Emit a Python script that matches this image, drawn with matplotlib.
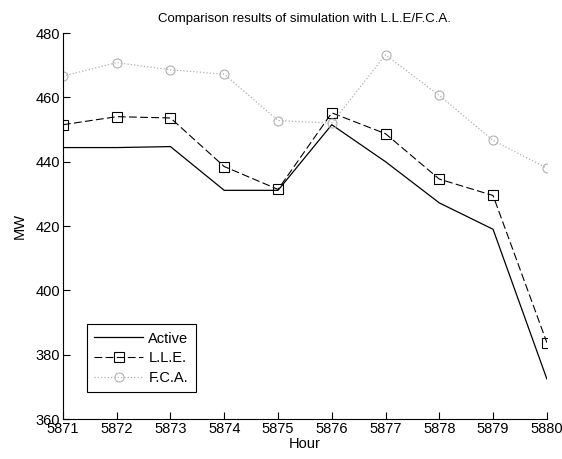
import numpy as np
import matplotlib.pyplot as plt

plt.rcParams['font.family'] = ['Liberation Sans', 'DejaVu Sans']

hours = [5871, 5872, 5873, 5874, 5875, 5876, 5877, 5878, 5879, 5880]
active = [444.4, 444.4, 444.7, 431.1, 431.1, 451.5, 440.0, 427.2, 419.0, 372.5]
lle = [451.5, 454.0, 453.6, 438.5, 431.4, 455.2, 448.7, 434.6, 429.5, 383.8]
fca = [466.6, 470.8, 468.6, 467.2, 452.8, 452.0, 473.2, 460.6, 446.6, 438.0]

fig = plt.figure(figsize=(5.62, 4.59), dpi=100)
ax = fig.add_axes([0.112, 0.087, 0.861, 0.841])

ax.plot(hours, active, color='black', lw=0.9, label='Active')
ax.plot(hours, lle, color='black', lw=0.8, ls=(0, (7, 3)), marker='s', ms=6.5,
        mfc='none', mec='black', mew=0.8, label='L.L.E.')
ax.plot(hours, fca, color='#b0b0b0', lw=0.9, ls=':', marker='o', ms=6.5,
        mfc='none', mec='#b0b0b0', mew=0.8, label='F.C.A.')

ax.set_xlim(5871, 5880)
ax.set_ylim(360, 480)
ax.set_xticks(hours)
ax.set_yticks(np.arange(360, 481, 20))
ax.spines['top'].set_visible(False)
ax.spines['right'].set_visible(False)
ax.tick_params(direction='in', length=5, labelsize=10.5, pad=2)
ax.set_xlabel('Hour', fontsize=10.5, labelpad=1)
ax.set_ylabel('MW', fontsize=10.5, labelpad=6)
ax.set_title('Comparison results of simulation with L.L.E/F.C.A.', fontsize=9.5, pad=8)

leg = ax.legend(loc='lower left', bbox_to_anchor=(0.035, 0.05), fancybox=False,
                edgecolor='black', fontsize=10.5, handlelength=3.3,
                borderpad=0.5, labelspacing=0.4, handletextpad=0.4,
                framealpha=1)
leg.get_frame().set_linewidth(0.8)

fig.savefig('out.png', dpi=100)
